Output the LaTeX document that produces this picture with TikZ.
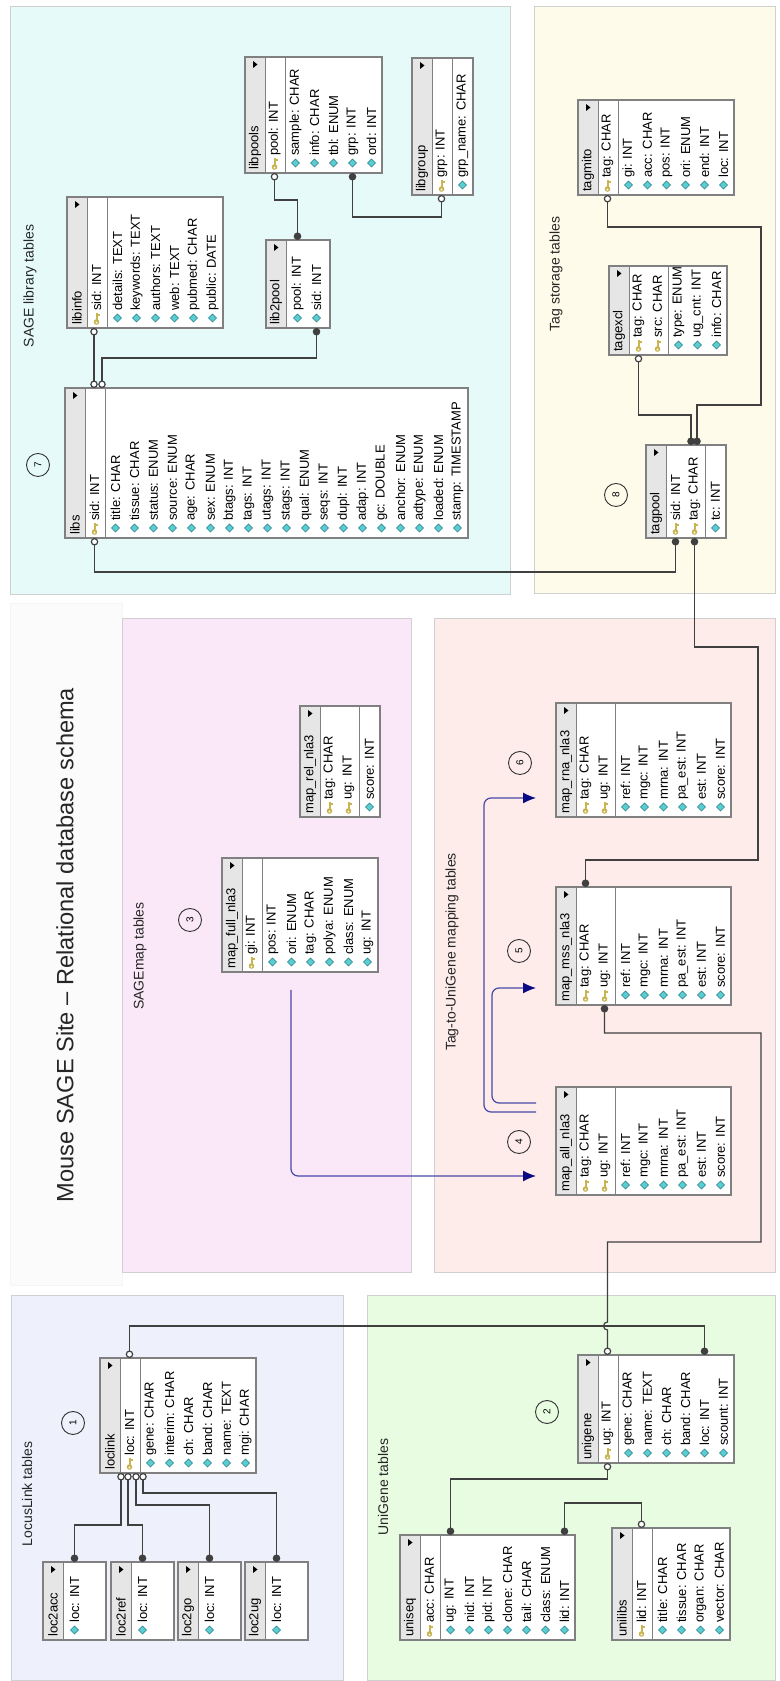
\documentclass[tikz,border=0pt]{standalone}
\usepackage{fontspec}
\setmainfont{Liberation Sans}
\usetikzlibrary{arrows.meta}

\definecolor{libcyan}{RGB}{230,250,250}
\definecolor{tagyellow}{RGB}{254,251,234}
\definecolor{mappink}{RGB}{250,232,248}
\definecolor{tugsalmon}{RGB}{253,236,234}
\definecolor{loclav}{RGB}{238,240,252}
\definecolor{unigreen}{RGB}{232,252,226}
\definecolor{titlegray}{RGB}{251,251,251}
\definecolor{panelline}{RGB}{208,208,208}
\definecolor{tblgray}{RGB}{128,128,128}
\definecolor{hdgray}{RGB}{230,230,230}
\definecolor{relgray}{RGB}{64,64,64}
\definecolor{mapblue}{RGB}{72,72,168}
\definecolor{arrownavy}{RGB}{10,10,130}
\definecolor{keygold}{RGB}{200,180,80}
\definecolor{diacyan}{RGB}{90,205,210}
\definecolor{diaedge}{RGB}{40,125,135}

\newcommand\fldfont{\fontsize{13}{15}\selectfont}

\tikzset{
  panel/.style={draw=panelline, line width=1pt},
  grouplabel/.style={font=\fontsize{14}{16}\selectfont, text=black!85},
  tblhead/.style={draw=tblgray, fill=hdgray, line width=1pt, minimum height=20, inner sep=0pt, outer sep=0pt, anchor=north west},
  tblframe/.style={draw=tblgray, line width=1.5pt},
  sepline/.style={draw=tblgray, line width=1pt},
  fldrow/.style={minimum height=19, inner sep=0pt, outer sep=0pt, anchor=north west},
  fldtext/.style={font=\fldfont, anchor=west, inner sep=0pt},
  hdtext/.style={font=\fldfont, anchor=west, inner sep=0pt},
  numcirc/.style={circle, draw=black!80, line width=0.9pt, minimum size=23, inner sep=0pt, font=\fontsize{10}{10}\selectfont},
  rel/.style={draw=relgray, line width=1.2pt},
  maparrow/.style={draw=mapblue, line width=1.2pt, rounded corners=7pt, -{Latex[length=13pt, width=11pt, color=arrownavy]}},
  ocirc/.tip={Circle[length=7.5pt, fill=white]},
  bcirc/.tip={Circle[length=7.5pt]}
}

\newcommand\keyicon[1]{%
  \fill[keygold] ([xshift=6]#1.west) circle (2.8);
  \fill[keygold] ([xshift=7,yshift=-1]#1.west) rectangle ++(8,2);
  \fill[keygold] ([xshift=12,yshift=-1]#1.west) rectangle ++(1.6,-2.4);
  \fill[white] ([xshift=5.4]#1.west) circle (1);
}
\newcommand\diaicon[1]{%
  \filldraw[fill=diacyan, draw=diaedge, line width=0.6pt] ([xshift=10]#1.west) +(-4,0) -- +(0,4) -- +(4,0) -- +(0,-4) -- cycle;
}

% #1 blank at the end, #2 id, #3 title, #4 #5 top left, #6 width, #7 number of keys, #8 fields
\newcommand\dbtable[8][1]{%
  \foreach \fld [count=\i] in {#8} {\xdef\nrows{\i}}%
  \pgfmathsetmacro\tblh{20+19*\nrows+2+#1}%
  \fill[white] (#4,#5) rectangle ++(#6,-\tblh);
  \node[tblhead, minimum width=#6] (#2) at (#4,#5) {};
  \node[hdtext] (#2-t) at ([xshift=3]#2.west) {#3};
  \fill ([xshift=-11,yshift=2]#2.east) -- ++(7,0) -- ++(-3.5,-4.5) -- cycle;
  \foreach \fld [count=\i] in {#8} {%
    \pgfmathsetmacro\rowy{#5-20-19*(\i-1)-2*(\i>#7)}%
    \node[fldrow, minimum width=#6] (#2-\i) at (#4,\rowy) {};
    \ifnum\i>#7\relax \diaicon{#2-\i}\else \keyicon{#2-\i}\fi
    \node[fldtext] (#2-\i-t) at ([xshift=17]#2-\i.west) {\fld};
  }%
  \ifnum#7>0\relax \draw[sepline] ([yshift=-1]#2-#7.south west) -- ([yshift=-1]#2-#7.south east);\fi
  \draw[tblframe] (#4,#5) rectangle ++(#6,-\tblh);
}

\begin{document}
\begin{tikzpicture}[x=1pt, y=1pt, rotate=90, transform shape]
\useasboundingbox (0,-779) rectangle (1681,0);

% panels
\filldraw[panel, fill=libcyan] (1086,-510) rectangle (1674,-10);
\filldraw[panel, fill=tagyellow] (1087,-775) rectangle (1674,-534);
\filldraw[draw=black!4, fill=titlegray] (396,-122) rectangle (1078,-10);
\filldraw[panel, fill=mappink] (408,-411) rectangle (1062,-122);
\filldraw[panel, fill=tugsalmon] (408,-775) rectangle (1062,-434);
\filldraw[panel, fill=loclav] (0,-343) rectangle (385,-11);
\filldraw[panel, fill=unigreen] (0,-775) rectangle (385,-367);

\node[font=\fontsize{23.6}{28}\selectfont, text=black!85] (title) at (736,-65) {Mouse SAGE Site – Relational database schema};
\node[grouplabel] (lbl-lib) at (1395,-30) {SAGE library tables};
\node[grouplabel] (lbl-tag) at (1407,-556) {Tag storage tables};
\node[grouplabel] (lbl-map) at (725,-140) {SAGEmap tables};
\node[grouplabel] (lbl-tug) at (729,-452) {Tag-to-UniGene mapping tables};
\node[grouplabel] (lbl-loc) at (187,-27) {LocusLink tables};
\node[grouplabel] (lbl-uni) at (194,-383) {UniGene tables};

\node[numcirc] (n1) at (258,-73) {1};
\node[numcirc] (n2) at (269,-547) {2};
\node[numcirc] (n3) at (761,-190) {3};
\node[numcirc] (n4) at (539,-519) {4};
\node[numcirc] (n5) at (730,-519) {5};
\node[numcirc] (n6) at (918,-520) {6};
\node[numcirc] (n7) at (1216,-38) {7};
\node[numcirc] (n8) at (1186,-616) {8};
\node[numcirc] (n9) at (1543,-619) {9};

% SAGE library
\dbtable{libs}{libs}{1143}{-65}{150}{1}{sid: INT, title: CHAR, tissue: CHAR, status: ENUM, source: ENUM, age: CHAR, sex: ENUM, btags: INT, tags: INT, utags: INT, stags: INT, qual: ENUM, seqs: INT, dupl: INT, adap: INT, gc: DOUBLE, anchor: ENUM, adtype: ENUM, loaded: ENUM, stamp: TIMESTAMP}
\dbtable{libinfo}{libinfo}{1353}{-67}{131}{1}{sid: INT, details: TEXT, keywords: TEXT, authors: TEXT, web: TEXT, pubmed: CHAR, public: DATE}
\dbtable{libpools}{libpools}{1508}{-245}{116}{1}{pool: INT, sample: CHAR, info: CHAR, tbl: ENUM, grp: INT, ord: INT}
\dbtable[4]{lib2pool}{lib2pool}{1353}{-266}{88}{0}{pool: INT, sid: INT}
\dbtable{libgroup}{libgroup}{1486}{-412}{137}{1}{grp: INT, grp\_name: CHAR}

% tag storage
\dbtable{tagpool}{tagpool}{1143}{-646}{93}{2}{sid: INT, tag: CHAR, tc: INT}
\dbtable{tagexcl}{tagexcl}{1326}{-609}{89}{2}{tag: CHAR, src: CHAR, type: ENUM, ug\_cnt: INT, info: CHAR}
\dbtable{tagmito}{tagmito}{1486}{-578}{95}{1}{tag: CHAR, gi: INT, acc: CHAR, pos: INT, ori: ENUM, end: INT, loc: INT}

% SAGEmap
\dbtable{mapfull}{map\_full\_nla3}{709}{-222}{114}{1}{gi: INT, pos: INT, ori: ENUM, tag: CHAR, polya: ENUM, class: ENUM, ug: INT}
\dbtable{maprel}{map\_rel\_nla3}{864}{-300}{111}{2}{tag: CHAR, ug: INT, score: INT}

% tag to UniGene
\dbtable{mapall}{map\_all\_nla3}{486}{-556}{108}{2}{tag: CHAR, ug: INT, ref: INT, mgc: INT, mrna: INT, pa\_est: INT, est: INT, score: INT}
\dbtable{mapmss}{map\_mss\_nla3}{676}{-556}{118}{2}{tag: CHAR, ug: INT, ref: INT, mgc: INT, mrna: INT, pa\_est: INT, est: INT, score: INT}
\dbtable{maprna}{map\_rna\_nla3}{864}{-556}{114}{2}{tag: CHAR, ug: INT, ref: INT, mgc: INT, mrna: INT, pa\_est: INT, est: INT, score: INT}

% LocusLink
\dbtable{loclink}{loclink}{208}{-100}{115}{1}{loc: INT, gene: CHAR, interim: CHAR, ch: CHAR, band: CHAR, name: TEXT, mgi: CHAR}
\dbtable[22]{loc2acc}{loc2acc}{41}{-43}{78}{0}{loc: INT}
\dbtable[22]{loc2ref}{loc2ref}{41}{-111}{78}{0}{loc: INT}
\dbtable[22]{loc2go}{loc2go}{41}{-178}{78}{0}{loc: INT}
\dbtable[22]{loc2ug}{loc2ug}{41}{-245}{78}{0}{loc: INT}

% UniGene
\dbtable{unigene}{unigene}{218}{-578}{108}{1}{ug: INT, gene: CHAR, name: TEXT, ch: CHAR, band: CHAR, loc: INT, scount: INT}
\dbtable{uniseq}{uniseq}{41}{-400}{105}{1}{acc: CHAR, ug: INT, nid: INT, pid: INT, clone: CHAR, tail: CHAR, class: ENUM, lid: INT}
\dbtable{unilibs}{unilibs}{41}{-612}{112}{1}{lid: INT, title: CHAR, tissue: CHAR, organ: CHAR, vector: CHAR}

% relations
\draw[rel, ocirc-ocirc] ([yshift=2.5]libinfo-1.west) -- ++(-60,0);
\draw[rel, ocirc-bcirc] ([yshift=-7.5]libs-1.east) -- ++(30,0) |- (lib2pool-2.west);
\draw[rel, ocirc-bcirc] (libpools-1.west) -- ++(-27,0) |- (lib2pool-1.east);
\draw[rel, ocirc-bcirc] (libgroup-1.west) -- ++(-22,0) |- (libpools-5.west);
\draw[rel, ocirc-bcirc] (libs-1.west) -- ++(-34,0) |- (tagpool-1.west);
\draw[rel, ocirc-bcirc] (tagexcl-1.west) -- ++(-60,0) |- ([yshift=3.5]tagpool-2.east);
\draw[rel, ocirc-bcirc] (tagmito-1.west) -- ++(-32,0) -- ++(0,-153.5) -- ++(-178,0) |- ([yshift=-2.5]tagpool-2.east);
\draw[rel, bcirc-bcirc] (tagpool-2.west) -- ++(-109,0) -- ++(0,-63.5) -- ++(-213,0) |- (mapmss-1.east);
\draw[rel, bcirc-ocirc] (mapmss-2.west) -- ++(-28,0) -- ++(0,-156.5) -- ++(-209,0) |- ([xshift=33]unigene-1.east) arc (0:180:4) -- (unigene-1.east);
\draw[rel, ocirc-bcirc] (loclink-1.east) -- ++(32,0) |- (unigene-6.east);
\draw[rel, ocirc-bcirc] ([yshift=8.5]loclink-1.west) -- ++(-52,0) |- (loc2acc-1.east);
\draw[rel, ocirc-bcirc] ([yshift=1.5]loclink-1.west) -- ++(-52,0) |- (loc2ref-1.east);
\draw[rel, ocirc-bcirc] ([yshift=-6.5]loclink-1.west) -- ++(-32,0) |- (loc2go-1.east);
\draw[rel, ocirc-bcirc] ([yshift=-13.5]loclink-1.west) -- ++(-20,0) |- (loc2ug-1.east);
\draw[rel, ocirc-bcirc] (unigene-1.west) -- ++(-16,0) |- (uniseq-2.east);
\draw[rel, bcirc-ocirc] (uniseq-8.east) -- ++(32,0) |- (unilibs-1.east);

% mapping arrows
\coordinate (mapfull-out) at (691,-291);
\draw[maparrow] (mapfull-out) -| ([shift={(19,20)}]mapall.north west);
\draw[maparrow] ([shift={(92,20)}]mapall.north west) -- ++(0,44) -| ([shift={(17,20)}]mapmss.north west);
\draw[maparrow] ([shift={(83,20)}]mapall.north west) -- ++(0,52) -| ([shift={(19,20)}]maprna.north west);
\end{tikzpicture}
\end{document}
